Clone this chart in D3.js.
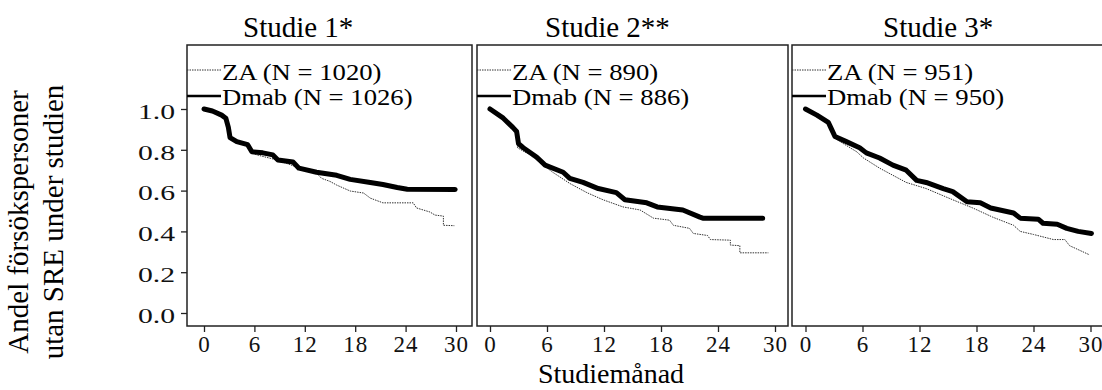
<!DOCTYPE html>
<html>
<head>
<meta charset="utf-8">
<script src="https://cdn.jsdelivr.net/npm/d3@7"></script>
<style>
  body { margin: 0; background: #fff; }
  svg { display: block; }
</style>
</head>
<body>
<svg id="chart" width="1102" height="390"></svg>
<script>
// panel titles and legend labels
var studies = ["Studie 1*", "Studie 2**", "Studie 3*"];
var zaLabels = ["ZA (N = 1020)", "ZA (N = 890)", "ZA (N = 951)"];
var dmabLabels = ["Dmab (N = 1026)", "Dmab (N = 886)", "Dmab (N = 950)"];

var xTicks = [0, 6, 12, 18, 24, 30];
var yTicks = [0, 0.2, 0.4, 0.6, 0.8, 1.0];

// [month, proportion without SRE]
var dmab1 = [[0,1.0],[1.0,0.99],[2.1,0.97],[2.6,0.955],[2.9,0.91],[3.1,0.86],[3.9,0.84],[5.2,0.825],[5.7,0.79],[7.0,0.785],[8.2,0.775],[8.8,0.75],[10.6,0.74],[11.3,0.71],[13.4,0.69],[15.8,0.675],[17.4,0.655],[19.8,0.64],[21.3,0.63],[23,0.615],[24.2,0.607],[29.9,0.606]];
var za1 = [[0,1.0],[1.0,0.99],[2.1,0.97],[2.6,0.955],[2.9,0.91],[3.1,0.86],[3.9,0.84],[5.2,0.82],[5.7,0.785],[6.3,0.775],[8.7,0.75],[11,0.716],[13.4,0.685],[14,0.66],[15,0.645],[15.8,0.627],[17.4,0.598],[19,0.588],[19.8,0.563],[21.3,0.54],[24.9,0.54],[25.3,0.515],[26.9,0.495],[27.5,0.48],[28.5,0.475],[28.5,0.43],[29.8,0.428]];

var dmab2 = [[0,1.0],[1.4,0.955],[2.4,0.91],[2.8,0.89],[3.0,0.83],[3.5,0.81],[4.9,0.765],[5.8,0.725],[7.7,0.69],[8.4,0.66],[9.8,0.64],[11.4,0.61],[13.3,0.59],[14.2,0.555],[16.5,0.54],[17.6,0.52],[20.3,0.505],[22.1,0.47],[22.4,0.465],[28.7,0.465]];
var za2 = [[0,1.0],[1.4,0.955],[2.4,0.91],[2.8,0.89],[2.9,0.81],[4.2,0.775],[5.6,0.725],[6.6,0.69],[8.4,0.635],[10.2,0.59],[11.9,0.555],[14,0.52],[15.8,0.505],[17.2,0.465],[18.9,0.455],[19.3,0.43],[21,0.415],[21.4,0.39],[22.9,0.38],[23.2,0.36],[25.3,0.357],[25.3,0.333],[26.3,0.33],[26.3,0.295],[29.3,0.295]];

var dmab3 = [[0,1.0],[1.2,0.97],[2.4,0.935],[2.7,0.905],[3.1,0.865],[4.3,0.84],[5.7,0.81],[6.4,0.785],[7.8,0.76],[9.2,0.725],[10.6,0.70],[11.7,0.65],[12.7,0.64],[14.5,0.61],[15.5,0.595],[17,0.545],[18.4,0.54],[19.5,0.515],[21.9,0.49],[22.6,0.465],[24.5,0.46],[25,0.44],[26.5,0.435],[27.5,0.415],[28.7,0.40],[30.1,0.39]];
var za3 = [[0,1.0],[1.2,0.97],[2.4,0.935],[2.7,0.905],[3.3,0.85],[5.4,0.79],[6.1,0.76],[7.8,0.71],[10.6,0.64],[12.7,0.61],[15.5,0.555],[17.6,0.515],[19.7,0.47],[21.9,0.43],[22.6,0.40],[24,0.385],[26.1,0.36],[27.3,0.36],[27.8,0.33],[29.9,0.285]];

var dmabSeries = [dmab1, dmab2, dmab3];
var zaSeries = [za1, za2, za3];

var FONT = "Liberation Serif";

var svg = d3.select("#chart").attr("font-family", FONT);

// panel frames (left, right) and where month 0 / 30 land
var panels = [
  { left: 187, right: 472, x0: 204, x30: 456, titleX: 243 },
  { left: 477, right: 788, x0: 490, x30: 775, titleX: 545 },
  { left: 792, right: 1106, x0: 805.5, x30: 1090.5, titleX: 883 }
];
var frameTop = 45, frameBottom = 326;

var y = d3.scaleLinear().domain([0, 1]).range([313, 109]);

panels.forEach(function(p, i) {
  var x = d3.scaleLinear().domain([0, 30]).range([p.x0, p.x30]);
  var g = svg.append("g");

  // frame
  g.append("rect")
      .attr("x", p.left).attr("y", frameTop)
      .attr("width", p.right - p.left).attr("height", frameBottom - frameTop)
      .attr("fill", "none").attr("stroke", "#222").attr("stroke-width", 1.5);

  // title
  g.append("text")
      .attr("x", p.titleX).attr("y", 37)
      .attr("font-family", FONT)
      .attr("font-size", 29)
      .text(studies[i]);

  // x axis
  var xa = g.append("g")
      .attr("transform", "translate(0," + frameBottom + ")")
      .call(d3.axisBottom(x).tickValues(xTicks).tickSize(6).tickPadding(4));
  xa.attr("font-family", FONT);
  xa.select(".domain").remove();
  xa.selectAll("line").attr("stroke", "#222").attr("stroke-width", 1.3);
  xa.selectAll("text")
      .attr("font-family", FONT)
      .attr("font-size", 23)
      .attr("letter-spacing", 1)
      .attr("fill", "#111");

  // y axis only on first panel
  if (i === 0) {
    var ya = g.append("g")
        .attr("transform", "translate(" + p.left + ",0)")
        .call(d3.axisLeft(y).tickValues(yTicks).tickFormat(d3.format(".1f")).tickSize(6));
    ya.attr("font-family", FONT);
    ya.select(".domain").remove();
    ya.selectAll("line").attr("stroke", "#222").attr("stroke-width", 1.3);
    ya.selectAll("text")
        .attr("x", null)
        .attr("dy", "0.42em")
        .attr("transform", "translate(-12,0) scale(1.35,1)")
        .attr("font-family", FONT)
        .attr("font-size", 22)
        .attr("fill", "#111");
  }

  var line = d3.line()
      .x(function(d) { return x(d[0]); })
      .y(function(d) { return y(d[1]); });

  g.append("path")
      .datum(zaSeries[i])
      .attr("d", line)
      .attr("fill", "none")
      .attr("stroke", "#333")
      .attr("stroke-width", 1)
      .attr("stroke-dasharray", "1.5,1");

  g.append("path")
      .datum(dmabSeries[i])
      .attr("d", line)
      .attr("fill", "none")
      .attr("stroke", "#000")
      .attr("stroke-width", 5)
      .attr("stroke-linejoin", "round")
      .attr("stroke-linecap", "round");

  // legend
  g.append("line")
      .attr("x1", p.left).attr("x2", p.left + 34)
      .attr("y1", 70).attr("y2", 70)
      .attr("stroke", "#333").attr("stroke-width", 1)
      .attr("stroke-dasharray", "1.5,1");
  g.append("line")
      .attr("x1", p.left).attr("x2", p.left + 34)
      .attr("y1", 96).attr("y2", 96)
      .attr("stroke", "#000").attr("stroke-width", 2.5);
  g.append("text")
      .attr("transform", "translate(" + (p.left + 35) + ",80) scale(1.16,1)")
      .attr("font-family", FONT)
      .attr("font-size", 23)
      .text(zaLabels[i]);
  g.append("text")
      .attr("transform", "translate(" + (p.left + 35) + ",105) scale(1.16,1)")
      .attr("font-family", FONT)
      .attr("font-size", 23)
      .text(dmabLabels[i]);
});

// axis titles
svg.append("text")
    .attr("x", 611).attr("y", 383)
    .attr("text-anchor", "middle")
    .attr("font-family", FONT)
    .attr("font-size", 28)
    .text("Studiemånad");

var yt = svg.append("text")
    .attr("transform", "translate(0,222) rotate(-90)")
    .attr("text-anchor", "middle")
    .attr("font-family", FONT)
    .attr("font-size", 29);
yt.append("tspan").attr("x", 0).attr("y", 28).text("Andel försökspersoner");
yt.append("tspan").attr("x", 0).attr("y", 63).text("utan SRE under studien");
</script>
</body>
</html>
